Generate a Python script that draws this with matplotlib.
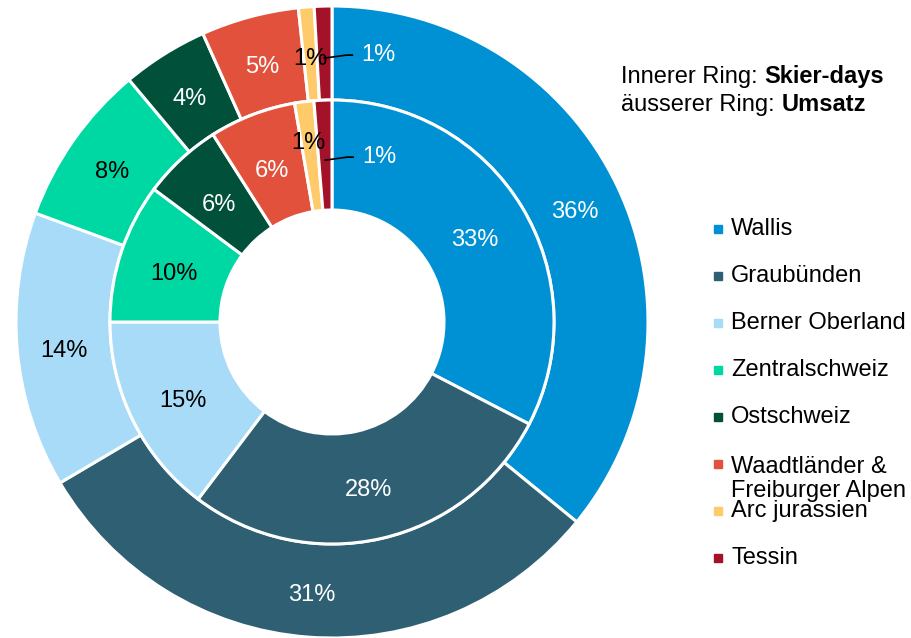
import numpy as np
import matplotlib.pyplot as plt

plt.rcParams['font.family'] = ['Liberation Sans', 'DejaVu Sans']

regions = ['Wallis', 'Graubünden', 'Berner Oberland', 'Zentralschweiz', 'Ostschweiz',
           'Waadtländer &\nFreiburger Alpen', 'Arc jurassien', 'Tessin']
skier_days = [32.6, 27.7, 14.7, 10.2, 5.8, 6.3, 1.4, 1.3]   # inner ring, %
umsatz = [35.9, 30.6, 14.1, 8.3, 4.4, 5.0, 0.8, 0.9]        # outer ring, %
colors = ['#0091D4', '#2F5F73', '#A8DBF7', '#00D8A4', '#00503A', '#E1513C', '#FFCA6A', '#A31228']
label_colors = ['white', 'white', 'black', 'black', 'white', 'white', 'black', 'white']

W, H = 911, 638
fig = plt.figure(figsize=(W / 100, H / 100), dpi=100)
ax = fig.add_axes([0, 0, 1, 1])

cx, cy = 332, H - 322
r_out, r_mid, r_in = 316, 222, 112
fs = 17
dy_lab = -5  # labels sit a bit below the geometric centre

outer, _ = ax.pie(umsatz, colors=colors, radius=r_out, center=(cx, cy), startangle=90,
                  counterclock=False, wedgeprops=dict(width=r_out - r_mid, edgecolor='white', linewidth=2.2))
inner, _ = ax.pie(skier_days, colors=colors, radius=r_mid, center=(cx, cy), startangle=90,
                  counterclock=False, wedgeprops=dict(width=r_mid - r_in, edgecolor='white', linewidth=2.2))
ax.set_xlim(0, W)
ax.set_ylim(0, H)
ax.set_aspect('equal')
ax.axis('off')


def put_labels(wedges, vals, r, arc_push):
    for i, (w, v) in enumerate(zip(wedges, vals)):
        a = np.deg2rad((w.theta1 + w.theta2) / 2)
        name = regions[i]
        rr = r + arc_push if name == 'Arc jurassien' else r
        x, y = cx + rr * np.cos(a), cy + rr * np.sin(a) + dy_lab
        if name == 'Tessin':
            # label moved right, with leader line
            ax.plot([x, x + 22, x + 28], [y, y + 3, y + 3], color='black', lw=1.2)
            ax.text(x + 54, y + 3, f'{v:.0f}%', ha='center', va='center', fontsize=fs, color='white')
            continue
        ax.text(x, y, f'{v:.0f}%', ha='center', va='center', fontsize=fs, color=label_colors[i])


put_labels(outer, umsatz, (r_out + r_mid) / 2, 0)
put_labels(inner, skier_days, (r_mid + r_in) / 2, 18)

# ring description
fig.canvas.draw()
rend = fig.canvas.get_renderer()
for k, (norm, bold) in enumerate([('Innerer Ring: ', 'Skier-days'), ('äusserer Ring: ', 'Umsatz')]):
    yb = H - 83 - 28 * k
    t = ax.text(621, yb, norm, ha='left', va='baseline', fontsize=fs)
    bb = t.get_window_extent(renderer=rend)
    ax.text(bb.x1, yb, bold, ha='left', va='baseline', fontsize=fs, fontweight='bold')

# legend
for i, (name, c) in enumerate(zip(regions, colors)):
    yc = H - (229 + 47 * i)
    ax.plot(718, yc, marker='s', ms=5.5, color=c, linestyle='none')
    nl = name.count('\n')
    ax.text(731, yc - 6 - 27 * nl, name, ha='left', va='baseline', fontsize=fs, linespacing=1.1)

fig.savefig('out.png', dpi=100)
